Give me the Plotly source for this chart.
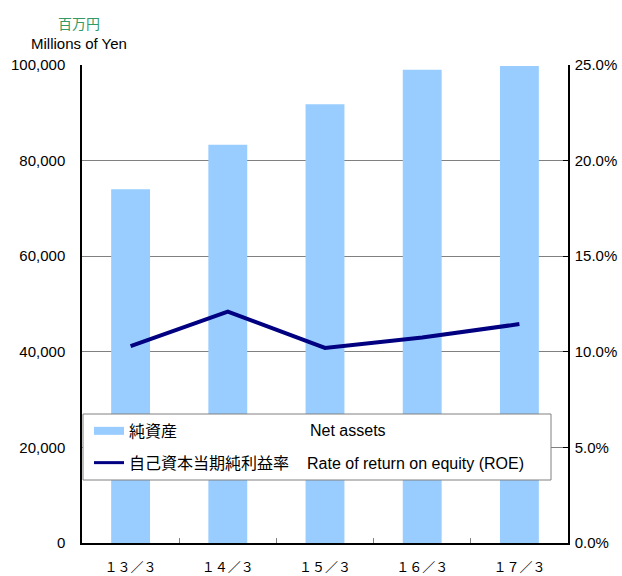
import plotly.graph_objects as go

categories = ["１３／３", "１４／３", "１５／３", "１６／３", "１７／３"]
net_assets = [74000, 83300, 91800, 99000, 99800]
roe = [10.3, 12.1, 10.2, 10.75, 11.45]

left_ticks = [0, 20000, 40000, 60000, 80000, 100000]
right_ticks = [0, 5, 10, 15, 20, 25]
right_labels = [f"{v:.1f}%" for v in right_ticks]

legend_jp = ["純資産", "自己資本当期純利益率"]
legend_en = ["Net assets", "Rate of return on equity (ROE)"]

FONT = '"Liberation Sans", Arial, sans-serif'
JFONT = '"Noto Sans CJK JP", "Liberation Sans", sans-serif'

fig = go.Figure()
fig.add_trace(go.Bar(x=categories, y=net_assets, marker=dict(color="#99CCFF", line=dict(width=0)),
                     width=0.4, showlegend=False, yaxis="y"))
fig.add_trace(go.Scatter(x=categories, y=roe, mode="lines", line=dict(color="#000080", width=4),
                         showlegend=False, yaxis="y2"))
# legend entries
fig.add_trace(go.Scatter(x=[None], y=[None], mode="lines", line=dict(color="#99CCFF", width=8),
                         name=legend_jp[0], legendgroup="a"))
fig.add_trace(go.Scatter(x=[None], y=[None], mode="lines", line=dict(color="#000080", width=3),
                         name=legend_jp[1], legendgroup="b"))

fig.update_layout(
    width=622, height=576,
    margin=dict(l=82, r=54, t=65, b=33, autoexpand=False),
    paper_bgcolor="white", plot_bgcolor="white",
    font=dict(family=FONT, size=15, color="black"),
    xaxis=dict(type="category", showgrid=False, showline=True, linecolor="black", linewidth=1.5,
               ticks="inside", tickson="boundaries", ticklen=5, tickcolor="#808080",
               tickfont=dict(family=JFONT, size=13), ticklabelstandoff=12, automargin=False),
    yaxis=dict(range=[0, 100000], tickvals=left_ticks, tickformat=",", showgrid=True,
               gridcolor="#808080", gridwidth=1, showline=True, linecolor="black", linewidth=1.5,
               ticks="", ticklabelstandoff=12, zeroline=False, automargin=False),
    yaxis2=dict(range=[0, 25], tickvals=right_ticks, ticktext=right_labels,
                overlaying="y", side="right", showgrid=False, showline=True, linecolor="black",
                linewidth=1.5, ticks="inside", ticklen=5, tickcolor="black", zeroline=False,
                ticklabelstandoff=2, automargin=False),
    legend=dict(x=0.0144, y=0.27, xanchor="left", yanchor="top", bgcolor="rgba(0,0,0,0)",
                borderwidth=0, font=dict(family=JFONT, size=16),
                tracegroupgap=8, itemclick=False),
    showlegend=True,
    shapes=[
        dict(type="rect", xref="paper", yref="paper", x0=(83 - 82) / 486, x1=(551 - 82) / 486,
             y0=(543 - 480) / 478, y1=(543 - 414) / 478, fillcolor="white",
             line=dict(color="#808080", width=1), layer="above"),
    ],
    annotations=[
        dict(text="百万円", xref="paper", yref="paper", x=-0.006, y=1.087, xanchor="center",
             yanchor="middle", showarrow=False, font=dict(family=JFONT, size=14, color="#339966")),
        dict(text="Millions of Yen", xref="paper", yref="paper", x=-0.006, y=1.044, xanchor="center",
             yanchor="middle", showarrow=False, font=dict(family=FONT, size=15, color="black")),
        dict(text=legend_en[0], xref="paper", yref="paper", x=0.465, y=0.236, xanchor="left",
             yanchor="middle", showarrow=False, font=dict(family=FONT, size=16, color="black")),
        dict(text=legend_en[1], xref="paper", yref="paper", x=0.459, y=0.167, xanchor="left",
             yanchor="middle", showarrow=False, font=dict(family=FONT, size=16, color="black")),
    ],
)

fig.write_html("out.html", config={"displayModeBar": False},
               post_script="document.body.style.margin='0';")
